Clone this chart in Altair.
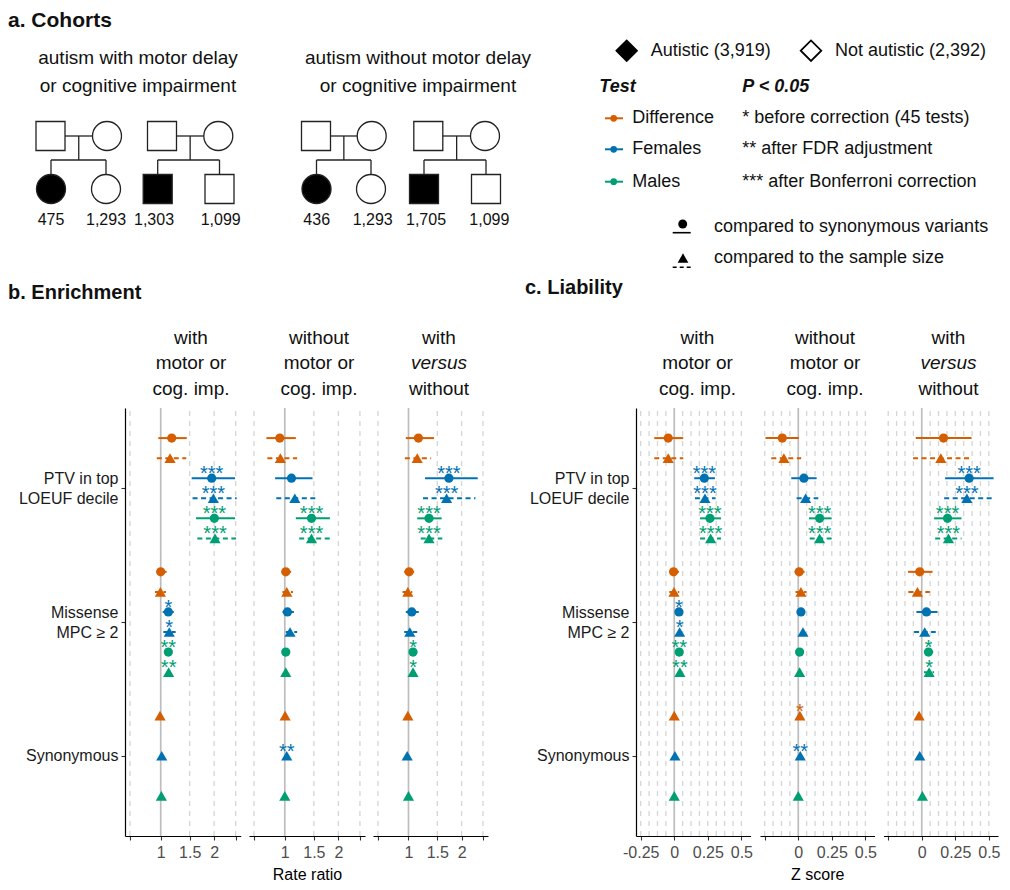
import altair as alt
import pandas as pd

FONT = "Liberation Sans"
TXT = "#111111"

# ---------------- forest plot data ----------------
categories = ["PTV in top\nLOEUF decile", "Missense\nMPC ≥ 2", "Synonymous"]
groups = ["Difference", "Females", "Males"]
group_colors = ["#D55E00", "#0072B2", "#009E73"]
tests = ["compared to synonymous variants", "compared to the sample size"]

row_category = [0, 0, 0, 0, 0, 0, 1, 1, 1, 1, 1, 1, 2, 2, 2]
row_group = ["Difference", "Difference", "Females", "Females", "Males", "Males"] * 2 + ["Difference", "Females", "Males"]
row_test = [0, 1] * 6 + [1, 1, 1]

# b. Enrichment (rate ratio)
b1_est = [1.178, 1.150, 1.947, 1.983, 2.005, 2.020, 1.000, 0.995, 1.122, 1.137, 1.122, 1.127, 0.990, 1.016, 1.010]
b1_lo = [0.964, 0.940, 1.538, 1.555, 1.623, 1.649, 0.940, 0.913, 1.031, 1.041, 1.095, 1.100, 0.975, 1.000, 0.995]
b1_hi = [1.444, 1.435, 2.484, 2.525, 2.484, 2.509, 1.094, 1.083, 1.213, 1.245, 1.150, 1.155, 1.005, 1.032, 1.025]
b1_stars = ["", "", "***", "***", "***", "***", "", "", "*", "*", "**", "**", "", "", ""]

b2_est = [0.924, 0.933, 1.106, 1.161, 1.456, 1.456, 1.015, 1.031, 1.041, 1.083, 1.015, 1.015, 1.005, 1.030, 1.000]
b2_lo = [0.736, 0.749, 0.856, 0.873, 1.178, 1.235, 0.954, 0.964, 0.964, 1.015, 1.000, 1.000, 0.990, 1.015, 0.985]
b2_hi = [1.178, 1.199, 1.475, 1.538, 1.819, 1.819, 1.100, 1.130, 1.146, 1.200, 1.030, 1.030, 1.020, 1.045, 1.015]
b2_stars = ["", "", "", "", "***", "***", "", "", "", "", "", "", "", "**", ""]

b3_est = [1.161, 1.141, 1.730, 1.683, 1.346, 1.346, 1.010, 0.990, 1.052, 1.021, 1.072, 1.072, 0.990, 0.980, 1.000]
b3_lo = [0.959, 0.944, 1.275, 1.240, 1.141, 1.200, 0.934, 0.909, 0.959, 0.934, 1.045, 1.045, 0.975, 0.965, 0.985]
b3_hi = [1.438, 1.384, 2.372, 2.316, 1.584, 1.597, 1.090, 1.060, 1.166, 1.140, 1.100, 1.100, 1.005, 0.995, 1.015]
b3_stars = ["", "", "***", "***", "***", "***", "", "", "", "", "*", "*", "", "", ""]

# c. Liability (Z score)
c1_est = [-0.045, -0.045, 0.224, 0.229, 0.266, 0.271, -0.005, -0.002, 0.035, 0.040, 0.037, 0.042, 0.000, 0.005, 0.000]
c1_lo = [-0.149, -0.149, 0.149, 0.154, 0.192, 0.192, -0.032, -0.037, 0.025, 0.030, 0.027, 0.032, -0.008, -0.003, -0.008]
c1_hi = [0.067, 0.067, 0.303, 0.308, 0.348, 0.348, 0.035, 0.037, 0.045, 0.050, 0.047, 0.052, 0.008, 0.013, 0.008]
c1_stars = ["", "", "***", "***", "***", "***", "", "", "*", "*", "**", "**", "", "", ""]

c2_est = [-0.119, -0.107, 0.042, 0.055, 0.159, 0.159, 0.007, 0.020, 0.020, 0.035, 0.010, 0.010, 0.012, 0.015, 0.000]
c2_lo = [-0.244, -0.201, -0.052, -0.012, 0.080, 0.085, -0.027, -0.020, 0.010, 0.025, 0.000, 0.000, 0.004, 0.007, -0.008]
c2_hi = [0.005, 0.022, 0.137, 0.149, 0.249, 0.249, 0.047, 0.060, 0.030, 0.045, 0.020, 0.020, 0.020, 0.023, 0.008]
c2_stars = ["", "", "", "", "***", "***", "", "", "", "", "", "", "*", "**", ""]

c3_est = [0.162, 0.142, 0.353, 0.336, 0.192, 0.199, -0.015, -0.032, 0.035, 0.022, 0.050, 0.055, -0.020, -0.015, 0.005]
c3_lo = [-0.045, -0.065, 0.174, 0.167, 0.092, 0.100, -0.102, -0.100, -0.040, -0.057, 0.017, 0.017, -0.028, -0.023, -0.003]
c3_hi = [0.371, 0.358, 0.535, 0.522, 0.296, 0.296, 0.080, 0.060, 0.117, 0.104, 0.085, 0.092, -0.012, -0.007, 0.013]
c3_stars = ["", "", "***", "***", "***", "***", "", "", "", "", "*", "*", "", "", ""]

# axis ticks
rr_domain = [0.523, 2.625]
rr_ticks = [0.58, 1, 1.5, 2, 2.5]
rr_tick_labels = ["", "1", "1.5", "2", ""]
rr_grid = [0.58, 1.5, 2, 2.5]
z_domain = [-0.285, 0.568]
z_ticks = [-0.25, 0, 0.25, 0.5]
z_tick_labels = ["-0.25", "0", "0.25", "0.5"]
z_grid = [-0.25, -0.1875, -0.125, -0.0625, 0.0625, 0.125, 0.1875, 0.25, 0.3125, 0.375, 0.4375, 0.5]
y_domain = [0.4, 3.6]

panel_headers = [["with", "motor or", "cog. imp."], ["without", "motor or", "cog. imp."], ["with", "versus", "without"]]
header_italic = [[False, False, False], [False, False, False], [False, True, False]]

# ---------------- cohort / legend data ----------------
cohort_titles = [["autism with motor delay", "or cognitive impairment"],
                 ["autism without motor delay", "or cognitive  impairment"]]
cohort_counts = ["475", "1,293", "1,303", "1,099", "436", "1,293", "1,705", "1,099"]
status_labels = ["Autistic (3,919)", "Not autistic (2,392)"]
sig_labels = ["* before correction (45 tests)", "** after FDR adjustment", "*** after Bonferroni correction"]
legend_titles = ["Test", "P < 0.05"]
section_titles = ["a. Cohorts", "b. Enrichment", "c. Liability"]
axis_titles = ["Rate ratio", "Z score"]

# ---------------- layout (page pixels; chart origin = page (8, 8)) ----------------
W, H = 994, 828
fam_father_x = [50.5, 162.0, 316.0, 428.3]
fam_mother_x = [107.0, 218.3, 371.7, 485.0]
fam_child_x = [[51.0, 106.0], [157.7, 219.5], [316.5, 371.0], [424.0, 486.0]]
fam_child_shape = ["circle", "square", "circle", "square"]
parent_y, sib_y, child_y = 136.0, 160.0, 189.0
sym_half = 14.5
count_x = [51, 106, 154, 220.7, 316.7, 372.7, 426, 489.3]
count_y = 219.5
cohort_title_x = [138, 418]
cohort_title_y = [58, 86]
section_pos = [(8, 21, 21), (8, 293, 20), (525, 288, 20)]
enr_header_x = [191, 319, 439]
lia_header_x = [697.5, 825, 948.5]
header_y = [338, 363.3, 388.5]

b_ranges = [(125, 240.7), (249, 365), (373, 488)]
c_ranges = [(636, 750.5), (760, 874.5), (883.5, 998)]
plot_top, plot_bottom = 408, 8 + H
DODGE = 0.9
LABEL_LH = 20

top_x = alt.Scale(domain=[8, 8 + W], range=[0, W], nice=False, zero=False)
top_y = alt.Scale(domain=[8, plot_top], range=[0, plot_top - 8], nice=False, zero=False)


def TX(f="x"):
    return alt.X(f, type="quantitative", scale=top_x, axis=None)


def TY(f="y"):
    return alt.Y(f, type="quantitative", scale=top_y, axis=None)


def tx(df, align, size, weight="normal", style="normal", color=TXT):
    return alt.Chart(df).mark_text(align=align, baseline="middle", font=FONT, fontSize=size,
                                   fontWeight=weight, fontStyle=style, color=color).encode(
        x=TX(), y=TY(), text="t:N")


# --- pedigree symbols
sym_rows = []
for i in range(4):
    sym_rows.append(dict(x=fam_father_x[i], y=parent_y, shape="square", fill="white"))
    sym_rows.append(dict(x=fam_mother_x[i], y=parent_y, shape="circle", fill="white"))
    sym_rows.append(dict(x=fam_child_x[i][0], y=child_y, shape=fam_child_shape[i], fill="black"))
    sym_rows.append(dict(x=fam_child_x[i][1], y=child_y, shape=fam_child_shape[i], fill="white"))
sym_df = pd.DataFrame(sym_rows)

line_rows = []
for i in range(4):
    fx, mx = fam_father_x[i], fam_mother_x[i]
    mid = (fx + mx) / 2
    c1, c2 = fam_child_x[i]
    line_rows += [
        dict(x=fx + sym_half, x2=mx - sym_half, y=parent_y, y2=parent_y),
        dict(x=mid, x2=mid, y=parent_y, y2=sib_y),
        dict(x=c1, x2=c2, y=sib_y, y2=sib_y),
        dict(x=c1, x2=c1, y=sib_y, y2=child_y - sym_half),
        dict(x=c2, x2=c2, y=sib_y, y2=child_y - sym_half),
    ]
line_df = pd.DataFrame(line_rows)

ped_lines = alt.Chart(line_df).mark_rule(color="#222", strokeWidth=1.3).encode(
    x=TX(), x2="x2:Q", y=TY(), y2="y2:Q")
ped_syms = alt.Chart(sym_df).mark_point(size=841, strokeWidth=1.3, opacity=1, stroke="#222").encode(
    x=TX(), y=TY(), shape=alt.Shape("shape:N", scale=None), fill=alt.Fill("fill:N", scale=None))

counts_df = pd.DataFrame(dict(x=count_x, y=[count_y] * len(count_x), t=cohort_counts))
ct_rows = []
for i, lines in enumerate(cohort_titles):
    for j, line in enumerate(lines):
        ct_rows.append(dict(x=cohort_title_x[i], y=cohort_title_y[j], t=line))
ct_df = pd.DataFrame(ct_rows)

sec_df = pd.DataFrame(dict(x=[p[0] for p in section_pos], y=[p[1] for p in section_pos], t=section_titles))
sec_a = tx(sec_df.iloc[[0]], "left", 21, weight="bold")
sec_bc = tx(sec_df.iloc[[1, 2]], "left", 20, weight="bold")

hdr_rows = []
for block_x in (enr_header_x, lia_header_x):
    for p, lines in enumerate(panel_headers):
        for j, line in enumerate(lines):
            hdr_rows.append(dict(x=block_x[p], y=header_y[j], t=line, it=header_italic[p][j]))
hdr_df = pd.DataFrame(hdr_rows)
hdr_normal = tx(hdr_df[~hdr_df.it], "center", 19)
hdr_italic = tx(hdr_df[hdr_df.it], "center", 19, style="italic")

status_df = pd.DataFrame(dict(x=[626.7, 811.0], y=[50.7, 50.7], fill=["black", "white"]))
status_sym = alt.Chart(status_df).mark_point(shape="diamond", size=420, strokeWidth=1.8, stroke="black", opacity=1).encode(
    x=TX(), y=TY(), fill=alt.Fill("fill:N", scale=None))
status_txt = tx(pd.DataFrame(dict(x=[650.7, 835.0], y=[50.7, 50.7], t=status_labels)), "left", 18)

leg_title = tx(pd.DataFrame(dict(x=[599.3, 742.3], y=[87.3, 87.3], t=legend_titles)), "left", 18,
               weight="bold", style="italic")
leg_rows_y = [118.3, 149.3, 181.7]
cscale = alt.Scale(domain=groups, range=group_colors)
grp_key_line = alt.Chart(pd.DataFrame(dict(x=[605] * 3, x2=[623] * 3, y=leg_rows_y, g=groups))).mark_rule(strokeWidth=2).encode(
    x=TX(), x2="x2:Q", y=TY(), color=alt.Color("g:N", scale=cscale, legend=None))
grp_key_pt = alt.Chart(pd.DataFrame(dict(x=[613.7] * 3, y=leg_rows_y, g=groups))).mark_point(filled=True, size=45, opacity=1).encode(
    x=TX(), y=TY(), color=alt.Color("g:N", scale=cscale, legend=None))
grp_txt = tx(pd.DataFrame(dict(x=[632.3] * 3, y=leg_rows_y, t=groups)), "left", 18)
sig_txt = tx(pd.DataFrame(dict(x=[742.3] * 3, y=leg_rows_y, t=sig_labels)), "left", 18)

cmp_pt_circle = alt.Chart(pd.DataFrame(dict(x=[682.7], y=[224.0]))).mark_point(shape="circle", filled=True, size=80, color="black", opacity=1).encode(x=TX(), y=TY())
cmp_pt_tri = alt.Chart(pd.DataFrame(dict(x=[683.0], y=[258.0]))).mark_point(shape="triangle-up", filled=True, size=115, color="black", opacity=1).encode(x=TX(), y=TY())
cmp_line_solid = alt.Chart(pd.DataFrame(dict(x=[672.7], x2=[690.7], y=[232.7]))).mark_rule(color="black", strokeWidth=1.6).encode(x=TX(), x2="x2:Q", y=TY())
cmp_line_dash = alt.Chart(pd.DataFrame(dict(x=[672.7], x2=[690.7], y=[267.3]))).mark_rule(color="black", strokeWidth=1.6, strokeDash=[4, 3]).encode(x=TX(), x2="x2:Q", y=TY())
cmp_txt = tx(pd.DataFrame(dict(x=[714.0, 714.0], y=[227.0, 258.0], t=tests)), "left", 18)

top_layers = [ped_lines, ped_syms, tx(counts_df, "center", 16), tx(ct_df, "center", 19), sec_a, sec_bc,
              hdr_normal, hdr_italic, status_sym, status_txt, leg_title, grp_key_line, grp_key_pt, grp_txt, sig_txt,
              cmp_line_solid, cmp_line_dash, cmp_pt_circle, cmp_pt_tri, cmp_txt]


# ---------------- forest panels ----------------
def forest_df(est, lo, hi, stars):
    counts = {c: row_category.count(c) for c in set(row_category)}
    seen = {}
    recs = []
    for i in range(len(est)):
        c = row_category[i]
        j = seen.get(c, 0)
        seen[c] = j + 1
        n = counts[c]
        ypos = (len(categories) - c) + ((n - 1) / 2 - j) * DODGE / n
        recs.append(dict(y=ypos, est=est[i], lo=lo[i], hi=hi[i], stars=stars[i],
                         group=row_group[i], test=tests[row_test[i]]))
    return pd.DataFrame(recs)


def label_expr(values, labels):
    e = "''"
    for v, l in reversed(list(zip(values, labels))):
        e = f"datum.value == {v} ? '{l}' : ({e})"
    return e


y_label_expr = "''"
y_offset_expr = "0"
for idx in reversed(range(len(categories))):
    lines = categories[idx].split("\n")
    parts = ",".join("'" + s + "'" for s in lines)
    pos = len(categories) - idx
    y_label_expr = f"datum.value == {pos} ? [{parts}] : ({y_label_expr})"
    y_offset_expr = f"datum.value == {pos} ? {-(len(lines) - 1) * LABEL_LH / 2} : ({y_offset_expr})"


def make_axis_x(values, labels, title, hide_first=False):
    labs = list(labels)
    if hide_first:
        labs[0] = ""
    return alt.Axis(orient="bottom", values=values, labelExpr=label_expr(values, labs), grid=False,
                    labelOverlap=False, labelFlush=False, domainColor="black", domainWidth=1.2,
                    tickColor="#333", tickSize=4, tickWidth=1.1, labelColor="#4d4d4d", labelFontSize=16,
                    labelFont=FONT, labelPadding=4, titleFontSize=16, titleFont=FONT, titleColor="black",
                    titleFontWeight="normal", titlePadding=6, title=title if title else "")


def make_axis_y(axis_x_chart):
    return alt.Axis(orient="left", offset=-axis_x_chart, values=[1, 2, 3], labelExpr=y_label_expr,
                    labelOffset={"expr": y_offset_expr},
                    grid=False, title="", domainColor="black", domainWidth=1.2, tickColor="#333",
                    tickSize=4, tickWidth=1.1, labelColor="#1a1a1a", labelFontSize=16, labelFont=FONT,
                    labelLineHeight=LABEL_LH, labelPadding=3)


def panel(df, xscale, xaxis, yaxis, grid_vals, ref_val):
    yscale = alt.Scale(domain=y_domain, range=[plot_bottom - 8, plot_top - 8], nice=False, zero=False)

    def X(f):
        return alt.X(f, type="quantitative", scale=xscale, axis=xaxis)

    def Y(f):
        return alt.Y(f, type="quantitative", scale=yscale, axis=yaxis)

    gdf = pd.DataFrame({"g": grid_vals, "y0": y_domain[0], "y1": y_domain[1]})
    rdf = pd.DataFrame({"r": [ref_val], "y0": y_domain[0], "y1": y_domain[1]})
    grid = alt.Chart(gdf).mark_rule(color="#d5d5d5", strokeWidth=1.3, strokeDash=[5, 5]).encode(
        x=X("g"), y=Y("y0"), y2="y1:Q")
    ref = alt.Chart(rdf).mark_rule(color="#bdbdbd", strokeWidth=1.7).encode(x=X("r"), y=Y("y0"), y2="y1:Q")
    base = alt.Chart(df).encode(y=Y("y"), color=alt.Color("group:N", scale=cscale, legend=None))
    ci_solid = base.transform_filter(alt.datum.test == tests[0]).mark_rule(strokeWidth=2).encode(x=X("lo"), x2="hi:Q")
    ci_dash = base.transform_filter(alt.datum.test == tests[1]).mark_rule(strokeWidth=2, strokeDash=[5, 3.5]).encode(x=X("lo"), x2="hi:Q")
    pt_c = base.transform_filter(alt.datum.test == tests[0]).mark_point(shape="circle", filled=True, size=85, opacity=1).encode(x=X("est"))
    pt_t = base.transform_filter(alt.datum.test == tests[1]).mark_point(shape="triangle-up", filled=True, size=125, opacity=1).encode(x=X("est"))
    st = base.mark_text(font=FONT, fontSize=20, baseline="alphabetic", align="center", dy=2).encode(x=X("est"), text="stars:N")
    return alt.layer(grid, ref, ci_solid, ci_dash, pt_c, pt_t, st)


b_data = [(b1_est, b1_lo, b1_hi, b1_stars), (b2_est, b2_lo, b2_hi, b2_stars), (b3_est, b3_lo, b3_hi, b3_stars)]
c_data = [(c1_est, c1_lo, c1_hi, c1_stars), (c2_est, c2_lo, c2_hi, c2_stars), (c3_est, c3_lo, c3_hi, c3_stars)]

panels = []
for i, d in enumerate(b_data):
    r0, r1 = b_ranges[i]
    xs = alt.Scale(type="sqrt", domain=rr_domain, range=[r0 - 8, r1 - 8], nice=False, zero=False)
    ax = make_axis_x(rr_ticks, rr_tick_labels, axis_titles[0] if i == 1 else None)
    ay = make_axis_y(r0 - 8) if i == 0 else None
    panels.append(panel(forest_df(*d), xs, ax, ay, rr_grid, 1))
for i, d in enumerate(c_data):
    r0, r1 = c_ranges[i]
    xs = alt.Scale(domain=z_domain, range=[r0 - 8, r1 - 8], nice=False, zero=False)
    ax = make_axis_x(z_ticks, z_tick_labels, axis_titles[1] if i == 1 else None, hide_first=(i > 0))
    ay = make_axis_y(r0 - 8) if i == 0 else None
    panels.append(panel(forest_df(*d), xs, ax, ay, z_grid, 0))

chart = alt.layer(*top_layers, *panels).resolve_scale(x="independent", y="independent").properties(
    width=W, height=H, padding=0).configure(font=FONT).configure_view(stroke="transparent", strokeWidth=0)

chart.save("out.html", embed_options={"renderer": "svg", "actions": False})
